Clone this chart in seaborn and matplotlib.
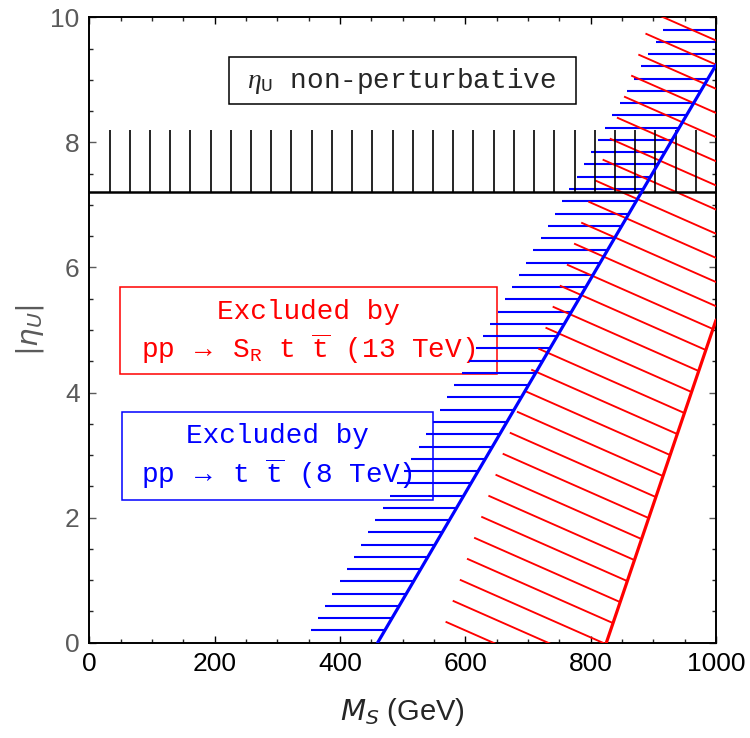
import numpy as np
import matplotlib
matplotlib.use("Agg")
import matplotlib.pyplot as plt
import seaborn as sns
from matplotlib.collections import LineCollection
from matplotlib.patches import Rectangle
from matplotlib.ticker import MultipleLocator

# exclusion boundaries (M_S in GeV, |eta_U|)
blue_ms = [460, 1000]      # pp -> t tbar (8 TeV)
blue_eta = [0.0, 9.24]
red_ms = [825, 1000]       # pp -> S_R t tbar (13 TeV)
red_eta = [0.0, 5.16]
eta_np = 7.2               # non-perturbative bound
eta_np_hatch = 8.2

sns.set_style("ticks")
plt.rcParams["font.family"] = ["Liberation Sans", "DejaVu Sans"]
plt.rcParams["mathtext.fontset"] = "custom"
plt.rcParams["mathtext.rm"] = "Liberation Mono"
plt.rcParams["mathtext.it"] = "Liberation Serif:italic"

BLUE = "#0000ff"
RED = "#ff0000"
GRAY = "#5a5a5a"

fig = plt.figure(figsize=(7.5, 7.38), dpi=100)
ax = fig.add_axes([0.1191, 0.1291, 0.8356, 0.8474])

# text boxes (drawn under the hatching)
mono = "Liberation Mono"
ax.add_patch(Rectangle((223, 8.61), 553, 0.76, fc="white", ec="black", lw=1.1, zorder=1))
ax.text(499, 8.99, r"$\eta_{\mathrm{U}}$ non-perturbative", ha="center", va="center",
        family=mono, fontsize=20, zorder=1.5)

ax.add_patch(Rectangle((49, 4.29), 601, 1.393, fc="white", ec=RED, lw=1.1, zorder=1))
ax.text(349.5, 5.29, "Excluded by", ha="center", va="center", family=mono,
        fontsize=20, color=RED, zorder=1.5)
ax.text(349.5, 4.71, r"pp $\rightarrow$ S$_{\mathrm{R}}$ t $\overline{\mathrm{t}}$ (13 TeV)",
        ha="center", va="center", family=mono, fontsize=20, color=RED, zorder=1.5)

ax.add_patch(Rectangle((51.7, 2.282), 496, 1.402, fc="white", ec=BLUE, lw=1.1, zorder=1))
ax.text(299.7, 3.305, "Excluded by", ha="center", va="center", family=mono,
        fontsize=20, color=BLUE, zorder=1.5)
ax.text(299.7, 2.71, r"pp $\rightarrow$ t $\overline{\mathrm{t}}$ (8 TeV)",
        ha="center", va="center", family=mono, fontsize=20, color=BLUE, zorder=1.5)

# blue hatching: horizontal dashes to the left of the 8 TeV boundary
blue_fit = np.polyfit(blue_eta, blue_ms, 1)
hy = np.arange(1, 51) * 10 / 51
hx = np.polyval(blue_fit, hy)
ax.hlines(hy, hx - 118, hx, color=BLUE, lw=1.5, zorder=2)

# red hatching: slanted dashes hanging off the 13 TeV boundary
red_fit = np.polyfit(red_eta, red_ms, 1)
ay = -0.694 + 0.3359 * np.arange(0, 31)
axx = np.polyval(red_fit, ay)
segs = [[(x, y), (x - 233, y + 1.03)] for x, y in zip(axx, ay)]
ax.add_collection(LineCollection(segs, colors=RED, lw=1.35, zorder=3))

# non-perturbative region: comb above the bound
ax.vlines(np.arange(1, 31) * 1000 / 31, eta_np, eta_np_hatch, color="black", lw=1.2, zorder=4)

sns.lineplot(x=[0, 1000], y=[eta_np, eta_np], color="black", lw=1.8, ax=ax, zorder=4)
sns.lineplot(x=blue_ms, y=blue_eta, color=BLUE, lw=2.3, ax=ax, zorder=5)
sns.lineplot(x=red_ms, y=red_eta, color=RED, lw=2.3, ax=ax, zorder=5)

ax.set_xlim(0, 1000)
ax.set_ylim(0, 10)
ax.xaxis.set_major_locator(MultipleLocator(200))
ax.xaxis.set_minor_locator(MultipleLocator(50))
ax.yaxis.set_major_locator(MultipleLocator(2))
ax.yaxis.set_minor_locator(MultipleLocator(0.5))

ax.tick_params(axis="both", which="both", direction="in", top=True, right=True, width=1)
ax.tick_params(axis="both", which="major", length=5, labelsize=19, pad=7)
ax.tick_params(axis="both", which="minor", length=3)
ax.tick_params(axis="x", colors="black")
ax.tick_params(axis="y", colors=GRAY)

for s in ax.spines.values():
    s.set_color("black")
    s.set_linewidth(1.4)

ax.set_xlabel(r"$M_S$ (GeV)", fontsize=21, math_fontfamily="dejavusans", labelpad=14)
ax.set_ylabel(r"$|\eta_U|$", fontsize=21, color=GRAY, math_fontfamily="dejavusans", labelpad=3)

fig.savefig("out.png", dpi=100)
